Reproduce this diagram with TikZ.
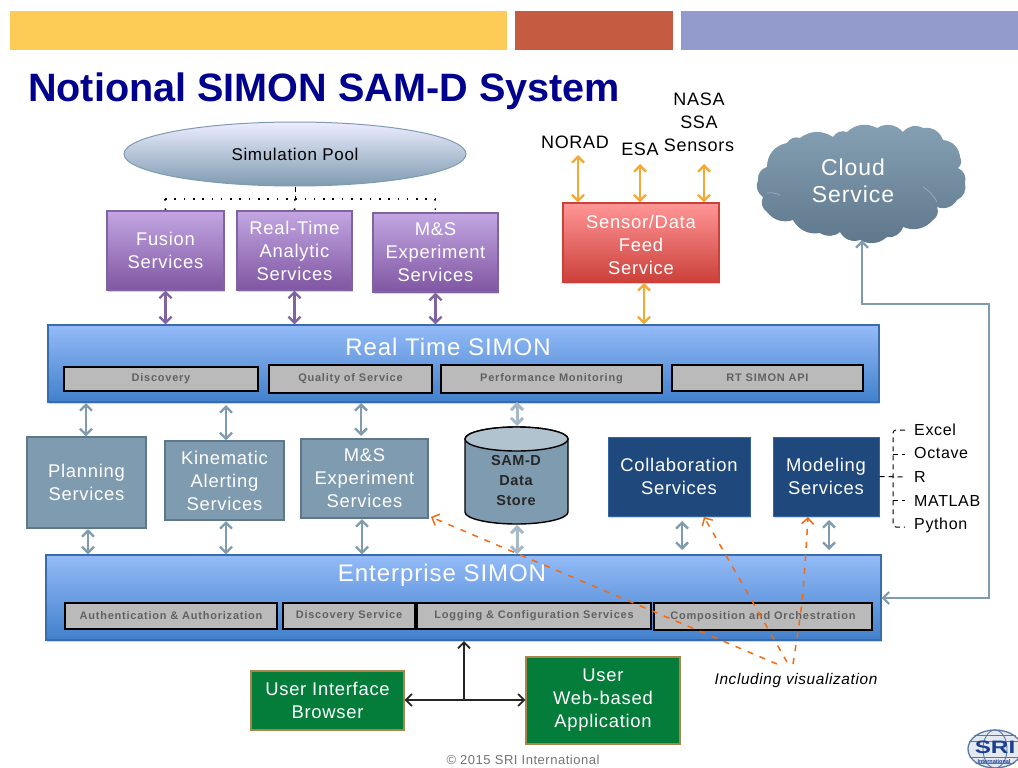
\documentclass[tikz,border=0pt]{standalone}
\usepackage{fontspec}
\setmainfont{Liberation Sans}
\newfontfamily\wide[LetterSpace=4]{Liberation Sans}
\newfontfamily\subf[LetterSpace=7]{Liberation Sans}
\usetikzlibrary{arrows.meta,shapes.geometric,shadows}
\definecolor{navy}{HTML}{00008C}
\definecolor{slateb}{HTML}{7F9BB0}
\definecolor{slatee}{HTML}{6F8CA4}
\definecolor{purp}{HTML}{8064A2}
\definecolor{orng}{HTML}{F5A833}
\definecolor{dorng}{HTML}{F26A12}
\definecolor{dblue}{HTML}{1F497D}
\definecolor{grn}{HTML}{047D3A}
\definecolor{ltop}{HTML}{94BBF8}
\definecolor{lbot}{HTML}{4280CC}
\definecolor{rtop}{HTML}{FF9696}
\definecolor{rbot}{HTML}{CC403A}
\definecolor{ptop}{HTML}{C3A6E2}
\definecolor{pbot}{HTML}{7F56A2}
\tikzset{
  soft/.style={drop shadow={shadow xshift=1pt,shadow yshift=-2pt,opacity=.35,fill=gray}},
  base/.style={rectangle,inner sep=0pt,align=center,text=white,font=\wide\fontsize{18.4}{23}\selectfont},
  purplebox/.style={base,soft,draw=purp,line width=1.2pt,top color=ptop,bottom color=pbot},
  redbox/.style={base,soft,draw=rbot,line width=1.2pt,top color=rtop,bottom color=rbot},
  greybox/.style={base,draw=slatee!85!black,line width=1.2pt,fill=slateb},
  darkbox/.style={base,soft,draw=lbot!80!black,line width=1pt,fill=dblue},
  greenbox/.style={base,draw=orng!60!black!80!white,line width=1.2pt,fill=grn},
  layer/.style={base,soft,draw=lbot!85!black,line width=1.2pt,top color=ltop,bottom color=lbot},
  sublabel/.style={rectangle,inner sep=0pt,draw=black,line width=1.3pt,fill=black!27,text=black!62,font=\subf\bfseries\fontsize{11}{13}\selectfont},
  plain/.style={inner sep=0pt,text=black,font=\wide\fontsize{18}{23}\selectfont,align=center},
  toolname/.style={inner sep=0pt,anchor=west,text=black,font=\wide\fontsize{16}{18}\selectfont},
  layertitle/.style={anchor=center,text=white,font=\wide\fontsize{24}{28}\selectfont,inner sep=0pt},
  barb/.tip={Straight Barb[length=6pt,width=12pt]},
  lnkP/.style={{barb}-{barb},draw=purp,line width=2.4pt},
  lnkO/.style={{barb}-{barb},draw=orng,line width=2.4pt},
  lnkS/.style={{barb}-{barb},draw=slateb,line width=2.4pt},
  lnkK/.style={draw=black!85,line width=1.8pt},
  lnkD/.style={-{barb},draw=dorng,line width=1.5pt,dash pattern=on 6pt off 7pt},
  treeline/.style={draw=black,line width=1pt,dash pattern=on 5pt off 4pt},
  dotline/.style={draw=black,line width=1.6pt,dash pattern=on 1.6pt off 7.7pt}
}
\begin{document}
\begin{tikzpicture}[x=1pt,y=-1pt]
\useasboundingbox (0,0) rectangle (1018,768);
\clip (0,0) rectangle (1018,768);
% header bars
\fill[fill={rgb,255:red,252;green,204;blue,86}] (10,11) rectangle (507,50);
\fill[fill={rgb,255:red,197;green,92;blue,66}] (515,11) rectangle (673,50);
\fill[fill={rgb,255:red,147;green,155;blue,204}] (681,11) rectangle (1018,50);
\node[inner sep=0pt,anchor=base west,text=navy,font=\bfseries\fontsize{39.6}{42}\selectfont] (title) at (28,102) {Notional SIMON SAM-D System};
% pool and top row
\node[ellipse,inner sep=0pt,minimum width=342pt,minimum height=64pt,draw=slateb,line width=1pt,top color=white!93!blue,bottom color=slateb,font=\wide\fontsize{17}{20}\selectfont] (pool) at (295,154) {Simulation Pool};
\node[purplebox,minimum width=117pt,minimum height=79pt] (fusion) at (165.5,250.5) {Fusion\\Services};
\node[purplebox,minimum width=115pt,minimum height=79pt] (rta) at (294.5,250.5) {Real-Time\\Analytic\\Services};
\node[purplebox,minimum width=125pt,minimum height=79pt] (mse1) at (435.5,252.5) {M\&S\\Experiment\\Services};
\node[redbox,minimum width=156pt,minimum height=79pt] (sensor) at (641,242.5) {};
\node[base,fill=none] (sensort) at (641,244.5) {Sensor/Data\\Feed\\Service};
\node[plain,anchor=center] (norad) at (575,142) {NORAD};
\node[plain,anchor=center] (esa) at (640,149) {ESA};
\node[plain,anchor=center] (nasa) at (699,122) {NASA\\SSA\\Sensors};
% cloud
\path[top color=slateb!95!white,bottom color=slatee!85!black]
  (758,180) to[bend left=40] (767,167) to[bend left=40] (787,143) to[bend left=40] (800,138)
  to[bend left=35] (833,137) to[bend left=40] (847,132) to[bend left=35] (877,128)
  to[bend left=40] (903,132) to[bend left=40] (923,128) to[bend left=40] (943,140)
  to[bend left=40] (960,157) to[bend left=40] (958,168) to[bend left=40] (965,183)
  to[bend left=40] (957,200) to[bend left=40] (937,207) to[bend left=40] (933,220)
  to[bend left=35] (903,227) to[bend left=40] (887,237) to[bend left=35] (860,240)
  to[bend left=40] (840,232) to[bend left=35] (820,233) to[bend left=35] (793,220)
  to[bend left=35] (767,212) to[bend left=40] (763,197) to[bend left=40] (758,180) -- cycle;
\draw[slateb!80!white,line width=.7pt] (923,187) to[bend left=15] (937,202);
\draw[slateb!80!white,line width=.7pt] (767,193) to[bend left=15] (780,195);
\node[inner sep=0pt,minimum width=208pt,minimum height=112pt] (cloud) at (862,184) {};
\node[inner sep=0pt,text=white,font=\wide\fontsize{23}{27}\selectfont,align=center] (cloudt) at (853,181) {Cloud\\Service};
% layers
\node[layer,minimum width=831pt,minimum height=77pt] (rt) at (463.5,363.5) {};
\node[layertitle] (rtt) at (448,347) {Real Time SIMON};
\node[sublabel,minimum width=194pt,minimum height=24pt] (disc) at (161,379) {Discovery};
\node[sublabel,minimum width=163pt,minimum height=28pt] (qos) at (350.5,379) {Quality of Service};
\node[sublabel,minimum width=221pt,minimum height=28pt] (perf) at (551.5,379) {Performance Monitoring};
\node[sublabel,minimum width=191pt,minimum height=26pt] (api) at (767.5,378) {RT SIMON API};
\node[layer,minimum width=835pt,minimum height=85pt] (ent) at (463.5,597.5) {};
\node[layertitle] (entt) at (442,575) {Enterprise SIMON};
\node[sublabel,minimum width=212pt,minimum height=26pt] (auth) at (171,616) {Authentication \& Authorization};
\node[sublabel,minimum width=132pt,minimum height=26pt] (ds) at (349,616) {Discovery Service};
\node[sublabel,minimum width=234pt,minimum height=26pt] (log) at (534,616) {Logging \& Configuration Services};
\node[sublabel,minimum width=218pt,minimum height=27pt] (comp) at (763,616.5) {Composition and Orchestration};
% middle row
\node[greybox,minimum width=119pt,minimum height=91pt] (plan) at (86.5,482.5) {Planning\\Services};
\node[greybox,minimum width=119pt,minimum height=79pt] (kin) at (224.5,480.5) {Kinematic\\Alerting\\Services};
\node[greybox,minimum width=127pt,minimum height=79pt] (mse2) at (364.5,478.5) {M\&S\\Experiment\\Services};
% data store cylinder
\draw[black,line width=1.4pt,fill=slateb] (465,439) -- (465,512) arc[start angle=180,end angle=360,x radius=51.5pt,y radius=12pt] -- (568,439) arc[start angle=0,end angle=180,x radius=51.5pt,y radius=12pt] -- cycle;
\draw[black,line width=1.4pt,fill=slateb!60!white] (516.5,439) ellipse (51.5pt and 12pt);
\node[inner sep=0pt,align=center,text=black!85,font=\wide\bfseries\fontsize{14.5}{20}\selectfont] (store) at (516,481) {SAM-D\\Data\\Store};
\node[darkbox,minimum width=142pt,minimum height=79pt] (coll) at (679,476.5) {Collaboration\\Services};
\node[darkbox,minimum width=106pt,minimum height=79pt] (modl) at (826,476.5) {Modeling\\Services};
% user
\node[greenbox,minimum width=153pt,minimum height=59pt] (ui) at (327.5,700.5) {User Interface\\Browser};
\node[greenbox,minimum width=154pt,minimum height=87pt] (web) at (603,700.5) {User\\Web-based\\Application};
% connectors top
\coordinate (tf) at (165,199);\coordinate (tm) at (435,199);\coordinate (tr) at (295,199);
\draw[dotline] (tf) -- (tm);
\draw[treeline] (pool.south) -- (tr);
\draw[dotline] (tf) -- (fusion.north);
\draw[dotline] (tr) -- (rta.north);
\draw[dotline] (tm) -- (mse1.north);
\draw[lnkP] (fusion.south) -- (fusion.south |- rt.north);
\draw[lnkP] (rta.south) -- (rta.south |- rt.north);
\draw[lnkP] (mse1.south) -- (mse1.south |- rt.north);
\coordinate (s0) at (644,283);
\draw[lnkO] (s0) -- (s0 |- rt.north);
\coordinate (n1) at (578,155);\coordinate (n2) at (640,164);\coordinate (n3) at (704,164);
\draw[lnkO] (n1) -- (n1 |- sensor.north);
\draw[lnkO] (n2) -- (n2 |- sensor.north);
\draw[lnkO] (n3) -- (n3 |- sensor.north);
% middle connectors
\coordinate (a1) at (86,403);\coordinate (a2) at (226,405);\coordinate (a3) at (361,403);\coordinate (a4) at (517,402);
\coordinate (a3e) at (361,436);\coordinate (a4e) at (517,426);
\draw[lnkS] (a1) -- (a1 |- plan.north);
\draw[lnkS] (a2) -- (a2 |- kin.north);
\draw[lnkS] (a3) -- (a3e);
\draw[lnkS,draw=slateb!70!white,line width=3pt] (a4) -- (a4e);
\coordinate (b1) at (88,529);\coordinate (b2) at (226,521);\coordinate (b3) at (362,519);\coordinate (b4) at (517,525);\coordinate (b5) at (682,521);\coordinate (b6) at (829,520);
\coordinate (b5e) at (682,550);\coordinate (b6e) at (829,550);
\draw[lnkS] (b1) -- (b1 |- ent.north);
\draw[lnkS] (b2) -- (b2 |- ent.north);
\draw[lnkS] (b3) -- (b3 |- ent.north);
\draw[lnkS,draw=slateb!70!white,line width=3pt] (b4) -- (b4 |- ent.north);
\draw[lnkS] (b5) -- (b5e);
\draw[lnkS] (b6) -- (b6e);
% cloud link
\coordinate (r1) at (989,598);\coordinate (r2) at (989,304);\coordinate (r3) at (862,304);
\draw[{barb}-{barb},draw=slateb,line width=2.2pt] (ent.east |- r1) -- (r1) -- (r2) -- (r3) -- (r3 |- cloud.south);
% user connectors
\coordinate (u1) at (464,700);\coordinate (u2) at (464,641);
\draw[lnkK,{barb}-{barb}] (ui.east |- u1) -- (web.west |- u1);
\draw[lnkK,-{barb}] (u1) -- (u2);
% tools
\coordinate (t0) at (905,477);\coordinate (t1) at (905,430);\coordinate (t2) at (893,430);\coordinate (t3) at (893,527);\coordinate (t4) at (905,527);
\coordinate (t5) at (893,454);\coordinate (t6) at (905,454);\coordinate (t7) at (893,500);\coordinate (t8) at (905,500);
\draw[treeline] (modl.east) -- (t0);
\draw[treeline,rounded corners=3pt] (t1) -- (t2) -- (t3) -- (t4);
\draw[treeline] (t5) -- (t6);
\draw[treeline] (t7) -- (t8);
\node[toolname] (xl) at (914,430) {Excel};
\node[toolname] (oc) at (914,453) {Octave};
\node[toolname] (rr) at (914,477) {R};
\node[toolname] (ml) at (914,501) {MATLAB};
\node[toolname] (py) at (914,525) {Python};
% visualization
\node[inner sep=0pt,font=\wide\itshape\fontsize{15.4}{18}\selectfont] (viz) at (796,681) {Including visualization};
\coordinate (v1) at (777,664);\coordinate (v2) at (787,662);\coordinate (v3) at (793,664);
\coordinate (e1) at (431,517);\coordinate (e2) at (704,517);\coordinate (e3) at (808,517);\coordinate (ec) at (803,600);
\draw[lnkD] (v1) -- (e1);
\draw[lnkD] (v2) -- (e2);
\draw[lnkD] (v3) .. controls (ec) .. (e3);
% footer
\node[inner sep=0pt,text=black!55,font=\wide\fontsize{13}{15}\selectfont] (copy) at (523,760) {© 2015 SRI International};
\begin{scope}
\clip (995,749) ellipse (28pt and 20pt);
\fill[dblue!12!white] (995,749) ellipse (28pt and 20pt);
\draw[dblue!75!white,line width=1.2pt] (995,749) ellipse (27pt and 19pt);
\foreach \dy in {-14,-8,8,14} {\draw[dblue!75!white,line width=.9pt] (965,749+\dy) -- (1025,749+\dy);}
\draw[dblue!75!white,line width=.9pt] (995,749) ellipse (12pt and 19pt);
\end{scope}
\node[inner sep=0pt,xscale=1.35,text=dblue!85!blue,anchor=center,font=\bfseries\fontsize{18}{20}\selectfont] (sri) at (995,747) {SRI};
\node[inner sep=0pt,text=dblue!85!blue,anchor=center,font=\bfseries\fontsize{5.5}{6}\selectfont] (sriint) at (994,762) {International};
\end{tikzpicture}
\end{document}
